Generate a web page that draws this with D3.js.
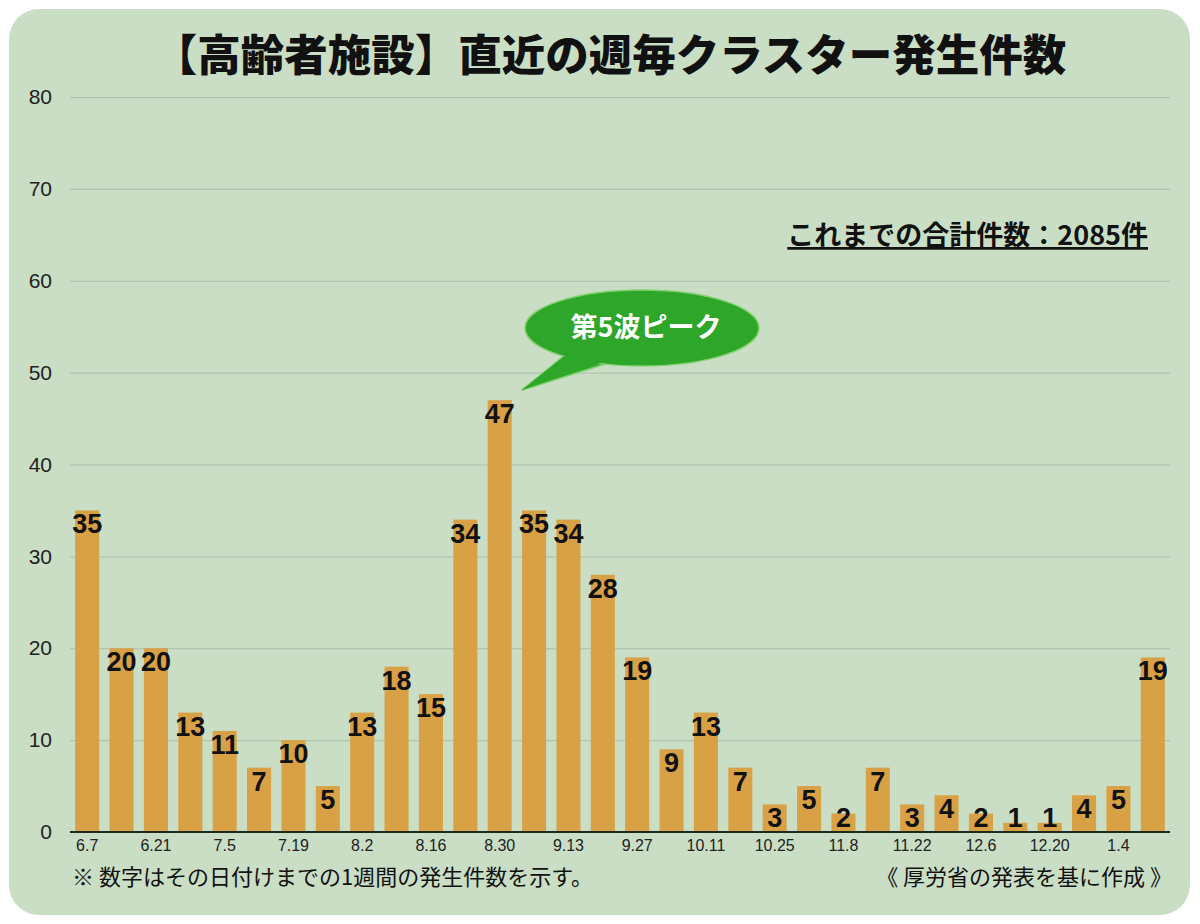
<!DOCTYPE html>
<html>
<head>
<meta charset="utf-8">
<script src="https://cdn.jsdelivr.net/npm/d3@7"></script>
<style>
  body { margin: 0; background: #fff; }
  svg text { font-family: "Noto Sans CJK JP", "Noto Sans", sans-serif; }
  svg text.num { font-family: "Liberation Sans", Arial, sans-serif; }
</style>
</head>
<body>
<div id="chart"></div>
<script>
// weekly dates (week ending)
var weeks = ["6.7", "6.14", "6.21", "6.28", "7.5", "7.12", "7.19", "7.26",
	"8.2", "8.9", "8.16", "8.23", "8.30", "9.6", "9.13", "9.20",
	"9.27", "10.4", "10.11", "10.18", "10.25", "11.1", "11.8", "11.15",
	"11.22", "11.29", "12.6", "12.13", "12.20", "12.27", "1.4", "1.11"];

// cluster counts per week
var counts = [35, 20, 20, 13, 11, 7, 10, 5, 13, 18, 15, 34, 47, 35, 34, 28,
	19, 9, 13, 7, 3, 5, 2, 7, 3, 4, 2, 1, 1, 4, 5, 19];

var yTicks = [0, 10, 20, 30, 40, 50, 60, 70, 80];

var title = "【高齢者施設】直近の週毎クラスター発生件数";
var totalText = "これまでの合計件数：2085件";
var calloutText = "第5波ピーク";
var noteLeft = "※ 数字はその日付けまでの1週間の発生件数を示す。";
var noteRight = "《 厚労省の発表を基に作成 》";

var width = 1200, height = 924;

var svg = d3.select("#chart").append("svg")
	.attr("width", width)
	.attr("height", height);

// background panel
svg.append("rect")
	.attr("x", 9).attr("y", 9)
	.attr("width", 1181).attr("height", 906)
	.attr("rx", 30).attr("ry", 30)
	.attr("fill", "#c9dec5");

var x = d3.scaleBand()
	.domain(weeks)
	.range([70, 1170])
	.paddingInner(0.3)
	.paddingOuter(0.15);

var y = d3.scaleLinear()
	.domain([0, 80])
	.range([832, 97]);

// gridlines + y labels
var yAxis = d3.axisLeft(y)
	.tickValues(yTicks)
	.tickSize(-1100)
	.tickPadding(18);

var gy = svg.append("g")
	.attr("transform", "translate(70,0)")
	.call(yAxis);
gy.select(".domain").remove();
gy.selectAll(".tick line")
	.attr("stroke", "#aebdab")
	.attr("stroke-width", 1)
	.attr("opacity", function(d) { return d === 0 ? 0 : 1; });
gy.selectAll(".tick text")
	.attr("class", "num")
	.attr("font-size", 21)
	.attr("fill", "#222");

// bars
svg.append("g").selectAll("rect")
	.data(counts)
	.enter()
	.append("rect")
	.attr("x", function(d, i) { return x(weeks[i]); })
	.attr("y", function(d) { return y(d); })
	.attr("width", x.bandwidth())
	.attr("height", function(d) { return y(0) - y(d); })
	.attr("fill", "#d9a145");

// baseline
svg.append("line")
	.attr("x1", 70).attr("x2", 1170)
	.attr("y1", y(0)).attr("y2", y(0))
	.attr("stroke", "#1d2a1d")
	.attr("stroke-width", 2);

// value labels
svg.append("g").selectAll("text")
	.data(counts)
	.enter()
	.append("text")
	.attr("class", "num")
	.attr("x", function(d, i) { return x(weeks[i]) + x.bandwidth() / 2; })
	.attr("y", function(d) { return Math.min(y(d) + 23, 827); })
	.attr("text-anchor", "middle")
	.attr("font-size", 27)
	.attr("font-weight", "bold")
	.attr("fill", "#111")
	.text(function(d) { return d; });

// x labels every other week
var xAxis = d3.axisBottom(x)
	.tickValues(weeks.filter(function(d, i) { return i % 2 === 0 && i < 31; }))
	.tickSize(0)
	.tickPadding(8);

var gx = svg.append("g")
	.attr("transform", "translate(0," + y(0) + ")")
	.call(xAxis);
gx.select(".domain").remove();
gx.selectAll(".tick text")
	.attr("class", "num")
	.attr("font-size", 16)
	.attr("fill", "#222");

// title
svg.append("text")
	.attr("x", 610).attr("y", 71)
	.attr("text-anchor", "middle")
	.attr("font-size", 43.5)
	.attr("font-weight", 900)
	.attr("fill", "#111")
	.text(title);

// total
svg.append("text")
	.attr("x", 1148).attr("y", 245)
	.attr("text-anchor", "end")
	.attr("font-size", 27)
	.attr("font-weight", "bold")
	.attr("fill", "#111")
	.attr("text-decoration", "underline")
	.text(totalText);

// callout bubble for the 5th wave peak
var peakX = x("8.30") + x.bandwidth() / 2;
var tip = (peakX + 22) + "," + (y(47) - 10);
var bubble = svg.append("g");
bubble.append("path")
	.attr("d", "M565,355 L" + tip + " L605,364 Z")
	.attr("fill", "#2ea62a")
	.attr("stroke", "#7fd06e")
	.attr("stroke-width", 1.5);
bubble.append("ellipse")
	.attr("cx", 642).attr("cy", 328)
	.attr("rx", 117).attr("ry", 38)
	.attr("fill", "#2ea62a")
	.attr("stroke", "#7fd06e")
	.attr("stroke-width", 1.5);
bubble.append("path")
	.attr("d", "M567,354 L" + tip + " L603,362 Z")
	.attr("fill", "#2ea62a");
bubble.append("text")
	.attr("x", 646).attr("y", 337)
	.attr("text-anchor", "middle")
	.attr("font-size", 27)
	.attr("font-weight", "bold")
	.attr("fill", "#fff")
	.text(calloutText);

// footnotes
svg.append("text")
	.attr("x", 72).attr("y", 885)
	.attr("font-size", 22)
	.attr("fill", "#111")
	.text(noteLeft);

svg.append("text")
	.attr("x", 1172).attr("y", 885)
	.attr("text-anchor", "end")
	.attr("font-size", 22)
	.attr("fill", "#111")
	.text(noteRight);
</script>
</body>
</html>
